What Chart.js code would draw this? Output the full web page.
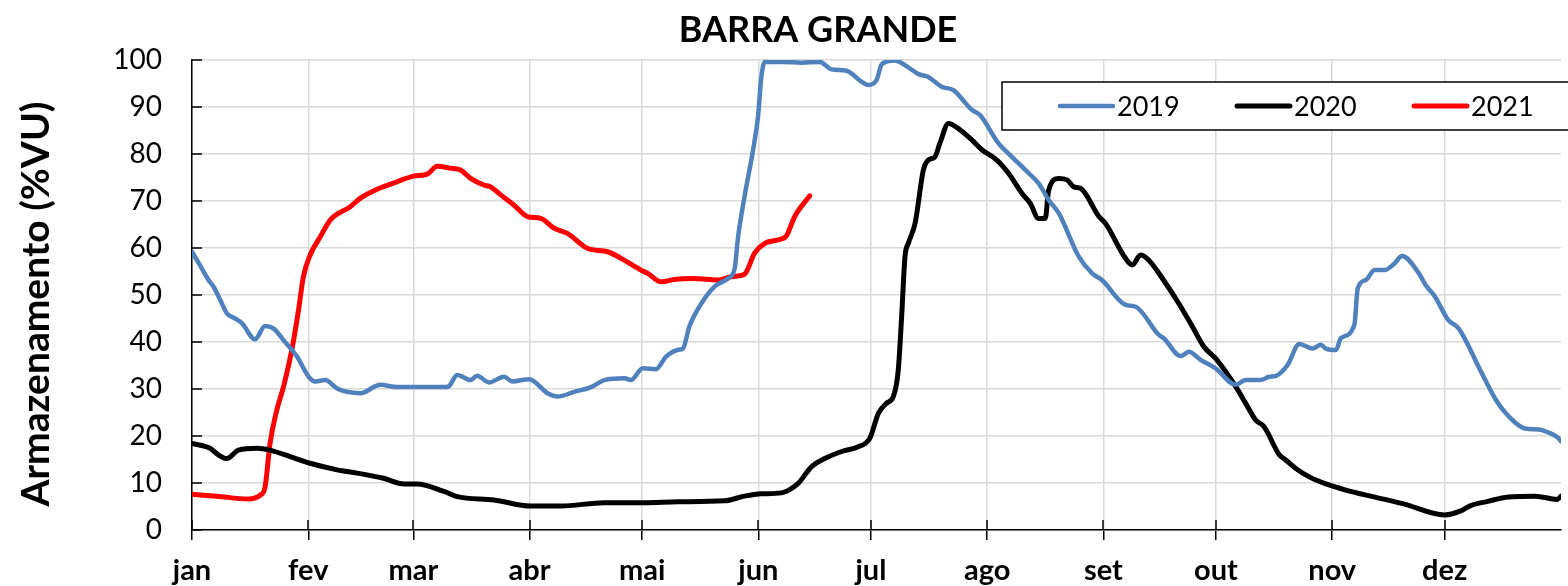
<!DOCTYPE html>
<html>
<head>
<meta charset="utf-8">
<script src="https://cdn.jsdelivr.net/npm/chart.js@4.4.1/dist/chart.umd.min.js"></script>
<style>
    html, body { margin: 0; padding: 0; background: #ffffff; }
    canvas { display: block; }
</style>
</head>
<body>
<canvas id="chart" width="1568" height="586"></canvas>
<script>
const chartTitle = "BARRA GRANDE";
const yTitle = "Armazenamento (%VU)";
const monthLabels = ["jan", "fev", "mar", "abr", "mai", "jun", "jul", "ago", "set", "out", "nov", "dez"];
const monthStarts = [0, 31, 59, 90, 120, 151, 181, 212, 243, 273, 304, 334];
const yTicks = [0, 10, 20, 30, 40, 50, 60, 70, 80, 90, 100];

// day of year / % of useful volume
const days2019 = [0, 2, 4.4, 5.7, 7.5, 9.3, 11.5, 13.3, 16.8, 19.5, 21.7, 24.4, 28, 31.1, 32.9, 35.5, 38.7, 41.3, 44.9, 50.2, 54.7, 60, 67.2, 68.5, 70.7, 74.3, 76, 79.2, 83.2, 85.4, 89.9, 94.8, 97.5, 101.9, 106.4, 109.9, 115.3, 117, 120.2, 123.7, 126.4, 130, 130.9, 132.6, 135.8, 139.3, 142.9, 144.7, 145.6, 147.3, 149.6, 150.9, 151.8, 152.7, 157.1, 162.5, 167.4, 170.5, 174.5, 178.5, 180.3, 182.5, 183.9, 187.4, 190.1, 193.7, 196.3, 199.9, 203, 207.9, 210.1, 215, 218.6, 223.1, 225.7, 228.4, 231.1, 236.4, 240, 242.6, 248.9, 251.6, 257.8, 259.1, 263.6, 265.8, 268.9, 272.9, 278.3, 280.9, 284.9, 287.2, 289, 292.1, 295.2, 298.8, 301, 302.3, 305, 306.3, 309.9, 310.8, 313, 315.3, 317.9, 320.6, 322.6, 327.2, 329, 331.3, 334.9, 337.7, 343.6, 347.7, 350.9, 355.4, 359.1, 361.8, 364.1, 365];
const vals2019 = [59.2, 56.5, 53.2, 51.8, 49, 46.1, 45.0, 44.0, 40.6, 43.4, 42.9, 40.4, 36.9, 32.6, 31.6, 31.9, 30.1, 29.4, 29.1, 30.9, 30.4, 30.4, 30.4, 30.6, 33.0, 31.9, 32.8, 31.4, 32.6, 31.6, 32.1, 29.1, 28.4, 29.4, 30.4, 31.9, 32.3, 31.9, 34.4, 34.2, 36.9, 38.4, 38.6, 43.3, 48.2, 51.8, 53.5, 55.7, 62.4, 70.9, 80.9, 87.9, 96.4, 99.6, 99.6, 99.4, 99.6, 98.0, 97.7, 95.4, 94.7, 95.7, 99.1, 99.9, 98.9, 97.0, 96.4, 94.3, 93.6, 89.4, 88.3, 82.3, 79.4, 75.9, 73.8, 70.2, 67.4, 58.2, 54.6, 53.2, 47.9, 47.5, 41.5, 40.8, 37.0, 37.9, 36.2, 34.4, 30.9, 31.9, 31.9, 32.6, 32.8, 35.1, 39.6, 38.6, 39.4, 38.6, 38.3, 40.8, 43.6, 51.4, 53.2, 55.3, 55.3, 56.7, 58.3, 54.5, 52.0, 49.8, 44.7, 42.9, 33.8, 27.6, 24.3, 21.6, 21.4, 20.7, 19.7, 18.9];

const days2020 = [0, 4.8, 7, 9.3, 12.4, 17.3, 20.8, 26.2, 31.5, 38.7, 44, 51.1, 56.5, 60, 67.2, 70.7, 80.5, 90.3, 98.3, 109.9, 120.6, 129.5, 142, 147.3, 151.8, 157.1, 161.6, 165.2, 168.7, 173.2, 177.6, 180.7, 183, 185.2, 187, 188.3, 189.2, 190.1, 191, 192.8, 195, 196.3, 198.1, 199.4, 201.7, 204.8, 207.9, 210.6, 214.6, 217.7, 221.3, 223.5, 225.7, 227.5, 228.4, 231.1, 233.3, 235.1, 236.9, 241.8, 243.5, 248.9, 250.7, 252.9, 255.1, 259.6, 263.1, 266.7, 269.8, 272.9, 275.6, 278.3, 280.9, 283.6, 285.8, 289.9, 291.6, 294.3, 297.9, 302.3, 307.6, 314.8, 322.8, 334, 338.1, 340.9, 345.5, 350.9, 358.2, 364, 365];
const vals2020 = [18.4, 17.4, 16.0, 15.2, 17.0, 17.4, 17.0, 15.6, 14.2, 12.8, 12.1, 11.0, 9.8, 9.8, 8.2, 7.1, 6.4, 5.1, 5.1, 5.8, 5.8, 6.0, 6.2, 7.2, 7.7, 7.9, 9.9, 13.5, 15.2, 16.7, 17.7, 19.5, 24.8, 27.0, 28.4, 34.0, 45.4, 58.2, 61.0, 65.3, 76.6, 78.7, 79.4, 82.3, 86.5, 85.1, 83.0, 80.9, 78.7, 75.9, 71.6, 69.5, 66.3, 66.3, 72.3, 74.8, 74.5, 73.0, 72.7, 66.7, 65.3, 57.8, 56.4, 58.5, 57.4, 52.5, 48.2, 43.3, 39.0, 36.5, 33.7, 30.5, 27.0, 23.4, 22.0, 16.0, 14.9, 13.1, 11.3, 9.8, 8.5, 7.1, 5.6, 3.2, 4.0, 5.2, 6.1, 7.0, 7.2, 6.5, 7.2];

const days2021 = [0, 6.6, 15, 18.2, 19.5, 20.8, 22.6, 24.4, 26.6, 28.4, 29.7, 31.5, 34.2, 36.9, 42.2, 44.9, 49.4, 54.7, 59.1, 62.7, 65.4, 68.9, 71.6, 74.3, 77.8, 79.6, 82.3, 85.9, 89.4, 93, 96.6, 100.1, 105.5, 110.8, 114.4, 119.7, 121.5, 125.1, 128.6, 134, 140.2, 143.8, 147.3, 150, 152.7, 157.1, 158.5, 160.7, 164.7];
const vals2021 = [7.6, 7.2, 6.6, 7.4, 9.2, 18.4, 25.5, 30.5, 38.3, 46.8, 53.9, 58.5, 62.4, 66.0, 68.8, 70.6, 72.5, 74.1, 75.3, 75.7, 77.4, 77.0, 76.6, 74.8, 73.4, 73.0, 71.3, 69.1, 66.7, 66.3, 64.2, 63.1, 59.9, 59.2, 57.8, 55.3, 54.6, 52.8, 53.3, 53.5, 53.2, 53.9, 54.4, 58.9, 61.0, 61.9, 62.6, 66.7, 71.1];

const toPoints = (days, vals) => days.map((d, i) => ({ x: d, y: vals[i] }));

const FONT = "Lato, 'Open Sans', sans-serif";

// chart title and rotated axis title, placed like the spreadsheet does
const titlePlugin = {
    id: "sheetTitle",
    afterDraw(chart) {
        const ctx = chart.ctx;
        ctx.save();
        ctx.fillStyle = "#000";
        ctx.textAlign = "center";
        ctx.textBaseline = "middle";
        ctx.font = `bold 36px ${FONT}`;
        ctx.fillText(chartTitle, 818, 30);
        ctx.translate(36, 304);
        ctx.rotate(-Math.PI / 2);
        ctx.font = `bold 39px ${FONT}`;
        ctx.fillText(yTitle, 0, 0);
        ctx.restore();
    },
};

// inward tick marks (y) and the upper half of the crossing x ticks
const tickMarks = {
    id: "tickMarks",
    afterDraw(chart) {
        const { ctx, scales: { x, y } } = chart;
        ctx.save();
        ctx.strokeStyle = "#000";
        ctx.lineWidth = 1.5;
        ctx.beginPath();
        yTicks.forEach((v) => {
            const py = Math.round(y.getPixelForValue(v));
            ctx.moveTo(x.left, py);
            ctx.lineTo(x.left + 10, py);
        });
        monthStarts.forEach((d) => {
            const px = Math.round(x.getPixelForValue(d));
            ctx.moveTo(px, y.bottom - 10);
            ctx.lineTo(px, y.bottom);
        });
        ctx.stroke();
        ctx.restore();
    },
};

// boxed legend sitting inside the plot, top right
const boxLegend = {
    id: "boxLegend",
    afterDatasetsDraw(chart) {
        const ctx = chart.ctx;
        const box = { left: 1002, top: 82, right: 1575, bottom: 130 };
        ctx.save();
        ctx.fillStyle = "#fff";
        ctx.fillRect(box.left, box.top, box.right - box.left, box.bottom - box.top);
        ctx.strokeStyle = "#000";
        ctx.lineWidth = 1.5;
        ctx.strokeRect(box.left, box.top, box.right - box.left, box.bottom - box.top);
        ctx.font = `27px ${FONT}`;
        ctx.textBaseline = "middle";
        ctx.textAlign = "left";
        const cy = (box.top + box.bottom) / 2;
        chart.data.datasets.forEach((ds, i) => {
            const x0 = 1060 + i * 177;
            ctx.strokeStyle = ds.borderColor;
            ctx.lineWidth = ds.borderWidth;
            ctx.lineCap = "round";
            ctx.beginPath();
            ctx.moveTo(x0, cy);
            ctx.lineTo(x0 + 53, cy);
            ctx.stroke();
            ctx.fillStyle = "#000";
            ctx.fillText(ds.label, x0 + 57, cy + 1);
        });
        ctx.restore();
    },
};

const ctx = document.getElementById("chart").getContext("2d");
window.chart = new Chart(ctx, {
    type: "line",
    data: {
        datasets: [
            {
                label: "2019",
                data: toPoints(days2019, vals2019),
                borderColor: "#4f81bd",
                borderWidth: 4.5,
            },
            {
                label: "2020",
                data: toPoints(days2020, vals2020),
                borderColor: "#000000",
                borderWidth: 5,
            },
            {
                label: "2021",
                data: toPoints(days2021, vals2021),
                borderColor: "#ff0000",
                borderWidth: 5,
            },
        ],
    },
    options: {
        responsive: false,
        animation: false,
        devicePixelRatio: 1,
        layout: { padding: { top: 60, right: 7, left: 0, bottom: 0 } },
        elements: {
            point: { radius: 0 },
            line: {
                cubicInterpolationMode: "monotone",
                borderJoinStyle: "round",
                borderCapStyle: "round",
            },
        },
        plugins: {
            legend: { display: false },
            title: { display: false },
            tooltip: { enabled: false },
        },
        scales: {
            x: {
                type: "linear",
                min: 0,
                max: 365,
                afterFit: (scale) => { scale.height = 56; },
                afterBuildTicks: (scale) => {
                    scale.ticks = monthStarts.map((d) => ({ value: d }));
                },
                ticks: {
                    autoSkip: false,
                    maxRotation: 0,
                    padding: 13,
                    color: "#000",
                    font: { family: FONT, size: 29, weight: "bold" },
                    callback: (value) => monthLabels[monthStarts.indexOf(value)] ?? "",
                },
                grid: { color: "#d9d9d9", lineWidth: 1.5, tickLength: 10, tickColor: "#000", tickWidth: 1.5 },
                border: { color: "#000", width: 1.5 },
            },
            y: {
                min: 0,
                max: 100,
                afterFit: (scale) => { scale.width = 192; },
                afterBuildTicks: (scale) => {
                    scale.ticks = yTicks.map((v) => ({ value: v }));
                },
                ticks: {
                    padding: 30,
                    color: "#000",
                    font: { family: FONT, size: 28 },
                },
                grid: { color: "#d9d9d9", lineWidth: 1.5, drawTicks: false },
                border: { color: "#000", width: 1.5 },
            },
        },
    },
    plugins: [titlePlugin, tickMarks, boxLegend],
});
</script>
</body>
</html>
